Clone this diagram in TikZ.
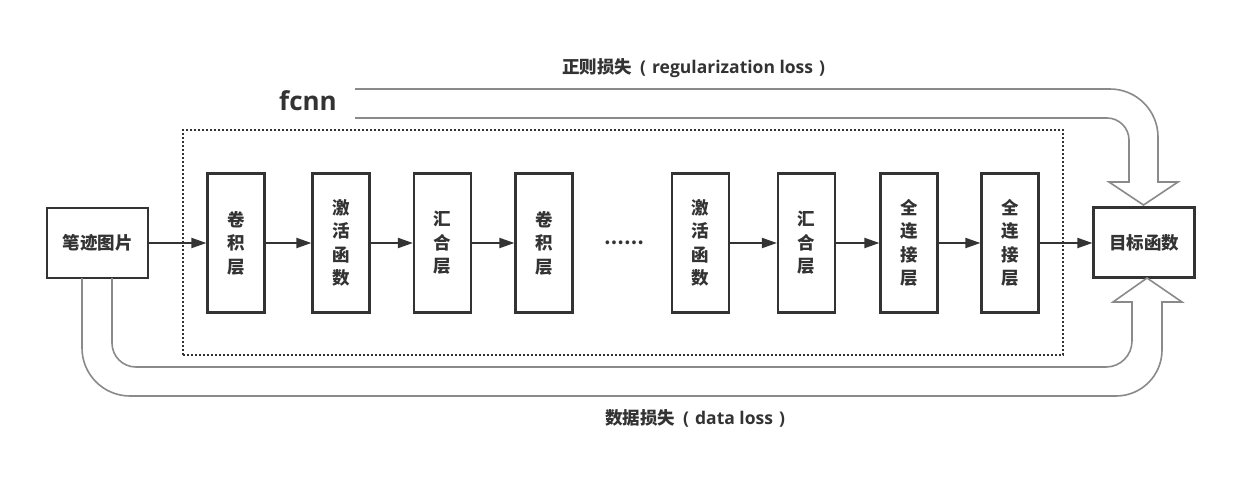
\documentclass[tikz,border=0pt]{standalone}
\usepackage{fontspec}
\setmainfont{Open Sans}
\newfontfamily\cjk{Noto Sans CJK SC}
\usetikzlibrary{arrows.meta}
\definecolor{dark}{HTML}{333333}
\definecolor{fatgray}{HTML}{8A8A8A}
\begin{document}
\begin{tikzpicture}[x=1pt,y=-1pt,
  box/.style={draw=dark, line width=2.2pt, minimum width=57pt, minimum height=139pt, inner sep=0pt, align=center, text=dark, font=\cjk\bfseries\fontsize{17.5}{23.5}\selectfont},
  wbox/.style={draw=dark, line width=2.2pt, minimum width=101pt, minimum height=70pt, inner sep=0pt, text=dark, font=\cjk\bfseries\fontsize{17.5}{21}\selectfont},
  conn/.style={draw=dark, line width=2pt, -{Triangle[length=15pt,width=10pt]}},
  fat/.style={draw=fatgray, line width=1.6pt, line join=miter},
  lbl/.style={text=dark, inner sep=0pt, font=\bfseries\fontsize{17.5}{20}\selectfont},
  netbox/.style={draw=dark, line width=1.8pt, dash pattern={on 1.8pt off 2.2pt}, minimum width=880pt, minimum height=225pt, inner sep=0pt}
]
\useasboundingbox (0,0) rectangle (1256,496);
\fill[white] (0,0) rectangle (1256,496);

% dotted network box
\node[netbox] (net) at (623,242.5) {};

% nodes
\node[wbox] (img) at (97.5,243) {笔迹图片};
\node[box] (b1) at (236,243) {卷\\积\\层};
\node[box] (b2) at (341,243) {激\\活\\函\\数};
\node[box] (b3) at (442.5,243) {汇\\合\\层};
\node[box] (b4) at (544,243) {卷\\积\\层};
\node[text=dark, inner sep=0pt, font=\cjk\bfseries\fontsize{17.5}{21}\selectfont] (dots) at (624,243) {……};
\node[box] (b5) at (700.5,243) {激\\活\\函\\数};
\node[box] (b6) at (806.5,243) {汇\\合\\层};
\node[box] (b7) at (909,243) {全\\连\\接\\层};
\node[box] (b8) at (1010,243) {全\\连\\接\\层};
\node[wbox] (obj) at (1144,242.5) {目标函数};

% connectors
\draw[conn] (img) -- (b1);
\draw[conn] (b1) -- (b2);
\draw[conn] (b2) -- (b3);
\draw[conn] (b3) -- (b4);
\draw[conn] (b5) -- (b6);
\draw[conn] (b6) -- (b7);
\draw[conn] (b7) -- (b8);
\draw[conn] (b8.east) -- (b8.east -| obj.west);

% labels
\node[lbl, anchor=base, font=\bfseries\fontsize{26}{30}\selectfont] (fcnn) at (308,110) {fcnn};
\node[lbl, anchor=west] (reg) at (562,68) {{\cjk 正则损失}\hspace{8pt}(\hspace{6pt}regularization loss\hspace{6pt})};
\node[lbl, anchor=west] (dat) at (605,418) {{\cjk 数据损失}\hspace{8pt}(\hspace{6pt}data loss\hspace{6pt})};

% regularization loss fat arrow
\draw[fat] (355,89) -- (1110,89) .. controls (1136.5,89) and (1158,110.5) .. (1158,137)
  -- (1158,182) -- (1178,182) -- (1143.5,205) -- (1109,182) -- (1129,182)
  -- (1129,140) .. controls (1129,127.9) and (1119.1,118) .. (1107,118) -- (355,118);

% data loss fat arrow
\draw[fat] (82,278) -- (82,348) .. controls (82,374.5) and (103.5,396) .. (130,396)
  -- (1116,396) .. controls (1141.4,396) and (1162,375.4) .. (1162,350)
  -- (1162,302) -- (1182,302) -- (1147,278) -- (1113,302) -- (1132,302)
  -- (1132,341) .. controls (1132,355.4) and (1120.4,367) .. (1106,367)
  -- (136,367) .. controls (122.7,367) and (112,356.3) .. (112,343) -- (112,278);
\end{tikzpicture}
\end{document}
